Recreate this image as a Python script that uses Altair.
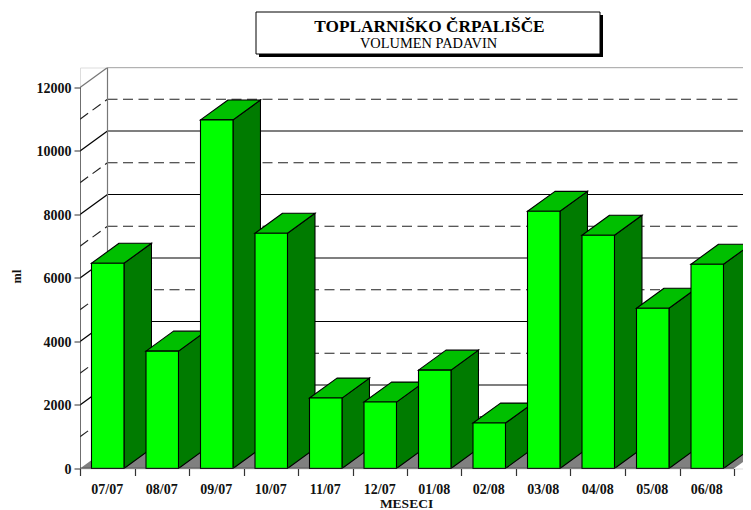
import altair as alt
import pandas as pd

months = ["07/07", "08/07", "09/07", "10/07", "11/07", "12/07",
          "01/08", "02/08", "03/08", "04/08", "05/08", "06/08"]
volumes = [6464, 3696, 10978, 7408, 2218, 2092, 3098, 1431, 8100, 7345, 5049, 6433]
major_levels = [2000, 4000, 6000, 8000, 10000]
minor_levels = [1000, 3000, 5000, 7000, 9000, 11000]
y_ticks = [0, 2000, 4000, 6000, 8000, 10000, 12000]

DX = 27.5 / 54.5      # depth of the box in category units
DY = 629              # depth of the box in value units
LEFT, RIGHT = 0.211, 0.807
W, H = 663, 401
XMAX = W / 54.5
YMAX = 12000 + DY
SERIF = "Liberation Serif"

xs = alt.Scale(domain=[0, XMAX], nice=False, zero=False)
ys = alt.Scale(domain=[0, YMAX], nice=False, zero=False)

y_axis = alt.Axis(
    values=y_ticks, grid=False, domain=False, tickSize=6, tickColor="#333333", tickWidth=1,
    labelFont=SERIF, labelFontWeight="bold", labelFontSize=14, labelColor="#111111", labelPadding=3,
    labelOffset=1,
    format="d", titleFont=SERIF, titleFontWeight="bold", titleFontSize=12.5, titleColor="#111111",
    titleX=-60, titleY=208.5, titleBaseline="alphabetic")
x_axis = alt.Axis(
    values=list(range(13)), grid=False, domain=False, labels=False, tickSize=7, tickColor="#333333",
    tickWidth=1.2, titleFont=SERIF, titleFontWeight="bold", titleFontSize=13.5, titleColor="#111111",
    titleX=326, titleY=39, titleBaseline="alphabetic")


def X(f="x"):
    return alt.X(f"{f}:Q", scale=xs, axis=x_axis, title="MESECI")


def Y(f="y"):
    return alt.Y(f"{f}:Q", scale=ys, axis=y_axis, title="ml")


side_rows, top_rows, front_rows = [], [], []
for i, v in enumerate(volumes):
    a, b = i + LEFT, i + RIGHT
    side_rows += [dict(i=i, x=b, y=0, y2=v), dict(i=i, x=b + DX, y=DY, y2=v + DY)]
    top_rows += [dict(i=i, y=v, x=a, x2=b), dict(i=i, y=v + DY, x=a + DX, x2=b + DX)]
    front_rows.append(dict(i=i, x=a, x2=b, y=0, y2=v))

floor = pd.DataFrame([dict(y=0, x=0, x2=12), dict(y=DY, x=DX, x2=12 + DX)])
floor_layer = alt.Chart(floor).mark_area(orient="horizontal", color="#808080", clip=True).encode(
    y=Y(), x=X(), x2="x2:Q")


def rules(rows, **mark):
    return alt.Chart(pd.DataFrame(rows)).mark_rule(clip=True, **mark).encode(
        x=X(), x2="x2:Q", y=Y(), y2="y2:Q")


def level_rows(levels):
    out = []
    for v in levels:
        out.append(dict(x=0, x2=DX, y=v, y2=v + DY))
        out.append(dict(x=DX, x2=XMAX, y=v + DY, y2=v + DY))
    return out


major = rules(level_rows(major_levels), color="#000000", strokeWidth=1.2)
minor = rules(level_rows(minor_levels), color="#222222", strokeWidth=1.2, strokeDash=[10, 5.5])
wall = rules([
    dict(x=DX, x2=DX, y=DY, y2=YMAX),
    dict(x=DX, x2=XMAX, y=YMAX, y2=YMAX),
    dict(x=0, x2=DX, y=12000, y2=YMAX),
], color="#777777", strokeWidth=1.2)

sides = alt.Chart(pd.DataFrame(side_rows)).mark_area(
    orient="vertical", color="#007b00", stroke="#000000", strokeWidth=1.1, clip=True
).encode(x=X(), y=Y(), y2="y2:Q", detail="i:N")
tops = alt.Chart(pd.DataFrame(top_rows)).mark_area(
    orient="horizontal", color="#00bf00", stroke="#000000", strokeWidth=1.1, clip=True
).encode(y=Y(), x=X(), x2="x2:Q", detail="i:N")
fronts = alt.Chart(pd.DataFrame(front_rows)).mark_rect(
    color="#00ff00", stroke="#000000", strokeWidth=1.1
).encode(x=X(), x2="x2:Q", y=Y(), y2="y2:Q")

axes = rules([
    dict(x=0, x2=0, y=0, y2=12000),
    dict(x=0, x2=12, y=0, y2=0),
], color="#333333", strokeWidth=1.3)

labels = alt.Chart(pd.DataFrame({"m": months, "x": [i + 0.5 for i in range(12)]})).mark_text(
    font=SERIF, fontWeight="bold", fontSize=14, color="#111111", baseline="alphabetic"
).encode(x=X(), y=alt.value(H + 25), text="m:N")

one = pd.DataFrame({"t": ["TOPLARNIŠKO ČRPALIŠČE"], "s": ["VOLUMEN PADAVIN"]})
shadow = alt.Chart(one).mark_rect(color="#000000").encode(
    x=alt.value(179), x2=alt.value(523), y=alt.value(-52.5), y2=alt.value(-10.5))
box = alt.Chart(one).mark_rect(color="#ffffff", stroke="#000000", strokeWidth=1).encode(
    x=alt.value(176), x2=alt.value(520), y=alt.value(-55.5), y2=alt.value(-13.5))
title = alt.Chart(one).mark_text(
    font=SERIF, fontWeight="bold", fontSize=17.3, color="#000000", baseline="alphabetic"
).encode(x=alt.value(349.5), y=alt.value(-36), text="t:N")
subtitle = alt.Chart(one).mark_text(
    font=SERIF, fontSize=14.4, color="#000000", baseline="alphabetic"
).encode(x=alt.value(348.5), y=alt.value(-19.5), text="s:N")

chart = alt.layer(
    floor_layer, major, minor, wall, sides, tops, fronts, axes, labels, shadow, box, title, subtitle
).properties(
    width=W, height=H, autosize=alt.AutoSizeParams(type="none"),
    padding={"left": 72, "top": 59.5, "right": 0, "bottom": 41.5},
).configure_view(stroke=None).configure(background="#ffffff")

chart.save("out.html", embed_options={"renderer": "svg", "actions": False})
